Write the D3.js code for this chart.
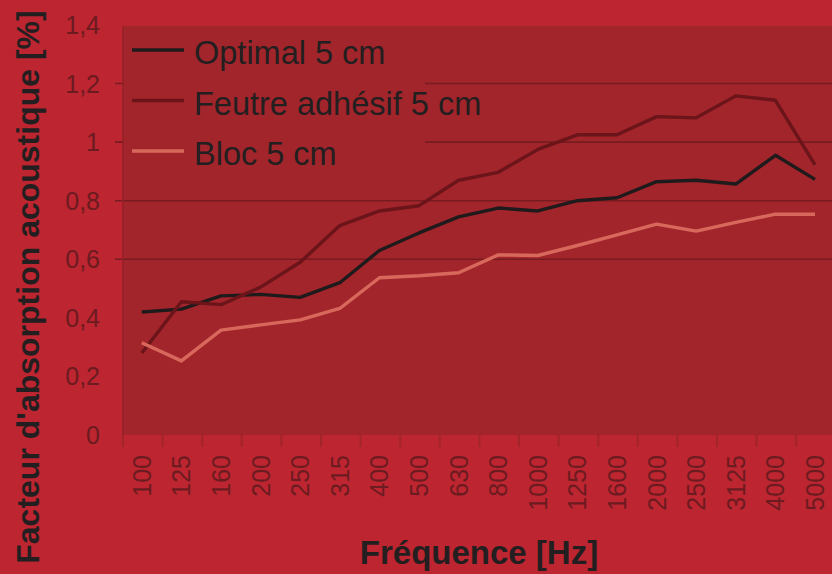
<!DOCTYPE html>
<html>
<head>
<meta charset="utf-8">
<script src="https://cdn.jsdelivr.net/npm/d3@7"></script>
<style>
  html, body { margin: 0; padding: 0; background: #bd2530; }
  svg { display: block; font-family: "Liberation Sans", Arial, sans-serif; }
</style>
</head>
<body>
<svg id="chart" width="832" height="574"></svg>
<script>
// frequency bands (Hz)
const frequencies = ['100', '125', '160', '200', '250', '315', '400', '500', '630', '800',
  '1000', '1250', '1600', '2000', '2500', '3125', '4000', '5000'];

const optimal = [0.42, 0.43, 0.475, 0.48, 0.47, 0.52, 0.63, 0.69, 0.745, 0.775,
  0.765, 0.80, 0.81, 0.865, 0.87, 0.857, 0.955, 0.873];
const feutre = [0.28, 0.455, 0.445, 0.505, 0.59, 0.715, 0.765, 0.783, 0.87, 0.897,
  0.975, 1.025, 1.025, 1.087, 1.083, 1.158, 1.143, 0.922];
const bloc = [0.315, 0.253, 0.358, 0.376, 0.393, 0.432, 0.537, 0.544, 0.554, 0.615,
  0.613, 0.647, 0.683, 0.72, 0.696, 0.726, 0.754, 0.754];

const yTicks = [0, 0.2, 0.4, 0.6, 0.8, 1, 1.2, 1.4];

const seriesNames = ['Optimal 5 cm', 'Feutre adhésif 5 cm', 'Bloc 5 cm'];
const seriesValues = [optimal, feutre, bloc];
const seriesColors = ['#1f1a1b', '#6b1419', '#d9685c'];

const svg = d3.select('#chart');

const x = d3.scaleBand()
  .domain(frequencies)
  .range([122, 834.8])
  .padding(0);

const y = d3.scaleLinear()
  .domain([0, 1.4])
  .range([435, 25]);

const fmt = (d) => d3.format('.1~f')(d).replace('.', ',');

// plot background
svg.append('rect')
  .attr('x', x.range()[0] + 1)
  .attr('y', y(1.4) + 1)
  .attr('width', 832 - x.range()[0])
  .attr('height', y(0) - y(1.4) - 1)
  .attr('fill', '#a2252b');

// gridlines (only upper ones show in the source)
svg.append('g')
  .selectAll('line')
  .data(yTicks.filter((d) => d >= 0.6 && d < 1.4))
  .join('line')
  .attr('x1', 115)
  .attr('x2', 832)
  .attr('y1', (d) => y(d))
  .attr('y2', (d) => y(d))
  .attr('stroke', '#761c21')
  .attr('stroke-width', 1.6);

// y axis line
svg.append('line')
  .attr('x1', 123).attr('x2', 123)
  .attr('y1', y(1.4) + 1).attr('y2', y(0) + 12)
  .attr('stroke', '#942129')
  .attr('stroke-width', 1.5);

// y tick labels
svg.append('g')
  .selectAll('text')
  .data(yTicks)
  .join('text')
  .attr('x', 100)
  .attr('y', (d) => y(d))
  .attr('dy', '0.36em')
  .attr('text-anchor', 'end')
  .attr('font-size', 25)
  .attr('fill', '#6c1b20')
  .text(fmt);

// x axis: category separators + rotated labels
const xAxis = svg.append('g')
  .attr('transform', `translate(0,${y(0)})`)
  .call(d3.axisBottom(x).tickSize(0).tickPadding(0));
xAxis.select('.domain').remove();
xAxis.selectAll('.tick text')
  .attr('transform', 'rotate(-90)')
  .attr('x', -20)
  .attr('y', 0)
  .attr('dy', '0.36em')
  .attr('text-anchor', 'end')
  .attr('font-size', 25)
  .attr('font-family', '"Liberation Sans", Arial, sans-serif')
  .attr('fill', '#6c1b20');

svg.append('g')
  .selectAll('line')
  .data(frequencies)
  .join('line')
  .attr('x1', (d) => x(d) + 1)
  .attr('x2', (d) => x(d) + 1)
  .attr('y1', y(0))
  .attr('y2', y(0) + 12)
  .attr('stroke', '#a2252b')
  .attr('stroke-width', 2);

// legend box covers the top-left of the plot
svg.append('rect')
  .attr('x', 124)
  .attr('y', y(1.4) + 1)
  .attr('width', 301)
  .attr('height', 160)
  .attr('fill', '#a2252b');

// series
const line = d3.line()
  .x((d, i) => x(frequencies[i]) + x.bandwidth() / 2)
  .y((d) => y(d));

svg.append('g')
  .selectAll('path')
  .data(seriesValues)
  .join('path')
  .attr('d', line)
  .attr('fill', 'none')
  .attr('stroke', (d, i) => seriesColors[i])
  .attr('stroke-width', 3.4)
  .attr('stroke-linejoin', 'round');

// legend
const legend = svg.append('g')
  .selectAll('g')
  .data(seriesNames)
  .join('g')
  .attr('transform', (d, i) => `translate(132,${50 + i * 50.5})`);

legend.append('line')
  .attr('x1', 0).attr('x2', 52)
  .attr('stroke', (d, i) => seriesColors[i])
  .attr('stroke-width', 3.4);

legend.append('text')
  .attr('x', 62)
  .attr('y', 14)
  .attr('font-size', 32.5)
  .attr('fill', '#231f20')
  .text((d) => d);

// axis titles
svg.append('text')
  .attr('transform', 'translate(39,287) rotate(-90)')
  .attr('text-anchor', 'middle')
  .attr('font-size', 32)
  .attr('font-weight', 'bold')
  .attr('fill', '#231f20')
  .text("Facteur d'absorption acoustique [%]");

svg.append('text')
  .attr('x', 479)
  .attr('y', 564)
  .attr('text-anchor', 'middle')
  .attr('font-size', 33)
  .attr('font-weight', 'bold')
  .attr('fill', '#231f20')
  .text('Fréquence [Hz]');
</script>
</body>
</html>
